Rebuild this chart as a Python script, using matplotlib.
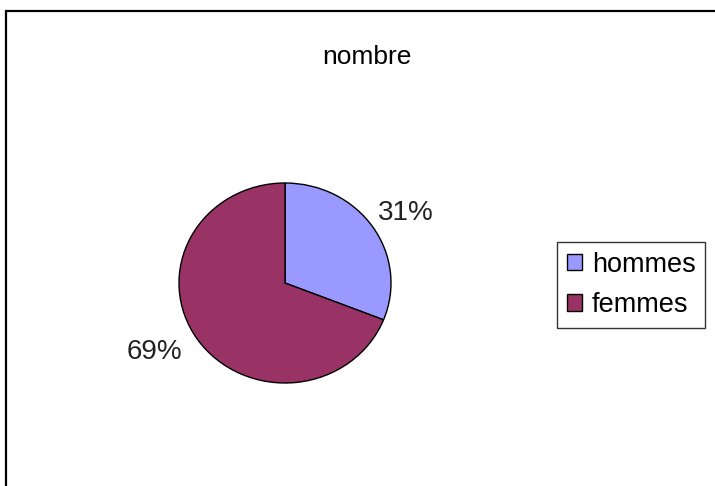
import matplotlib
matplotlib.use("Agg")
import matplotlib.pyplot as plt
from matplotlib.patches import Rectangle

categories = ["hommes", "femmes"]
values = [31, 69]
colors = ["#9999FF", "#993366"]
title = "nombre"

plt.rcParams['font.family'] = ['Liberation Sans', 'DejaVu Sans']

W, H = 715, 486
fig = plt.figure(figsize=(W / 100, H / 100), dpi=100)
fig.patch.set_facecolor("white")

# outer frame (extends past right/bottom edges like the reference)
fig.patches.append(Rectangle((5.5 / W, -0.1), 1.2, 1 - 11.5 / H + 0.1,
                             transform=fig.transFigure, fill=False,
                             edgecolor="black", linewidth=1.6, clip_on=False))

fig.text(367 / W, 1 - 57 / H, title, ha="center", va="center", fontsize=19)

cx, cy, rx, ry = 285, 283, 106, 100
ax = fig.add_axes([(cx - rx) / W, 1 - (cy + ry) / H, 2 * rx / W, 2 * ry / H])
wedges, texts, autotexts = ax.pie(values, colors=colors, startangle=90,
                                  counterclock=False, autopct='%1.0f%%',
                                  pctdistance=1.36,
                                  wedgeprops=dict(edgecolor="black", linewidth=1.0),
                                  textprops=dict(fontsize=20, color="#222222"))
ax.set_aspect("auto")
ax.set_xlim(-1, 1)
ax.set_ylim(-1, 1)
for w in wedges:
    w.set_clip_on(False)
# label placement (layout tweak to match reference)
label_pos = [(1.14, 0.70), (-1.23, -0.69)]
for t, p in zip(autotexts, label_pos):
    t.set_clip_on(False)
    t.set_position(p)

leg = fig.legend(wedges, categories, loc="center", bbox_to_anchor=(631 / W, 1 - 285 / H),
                 fontsize=19.5, frameon=True, fancybox=False, shadow=False,
                 handlelength=0.58, handleheight=0.58, handletextpad=0.35,
                 labelspacing=0.55, borderpad=0.35, borderaxespad=0)
leg.get_frame().set_edgecolor("black")
leg.get_frame().set_linewidth(1.0)

fig.savefig("out.png", dpi=100)
